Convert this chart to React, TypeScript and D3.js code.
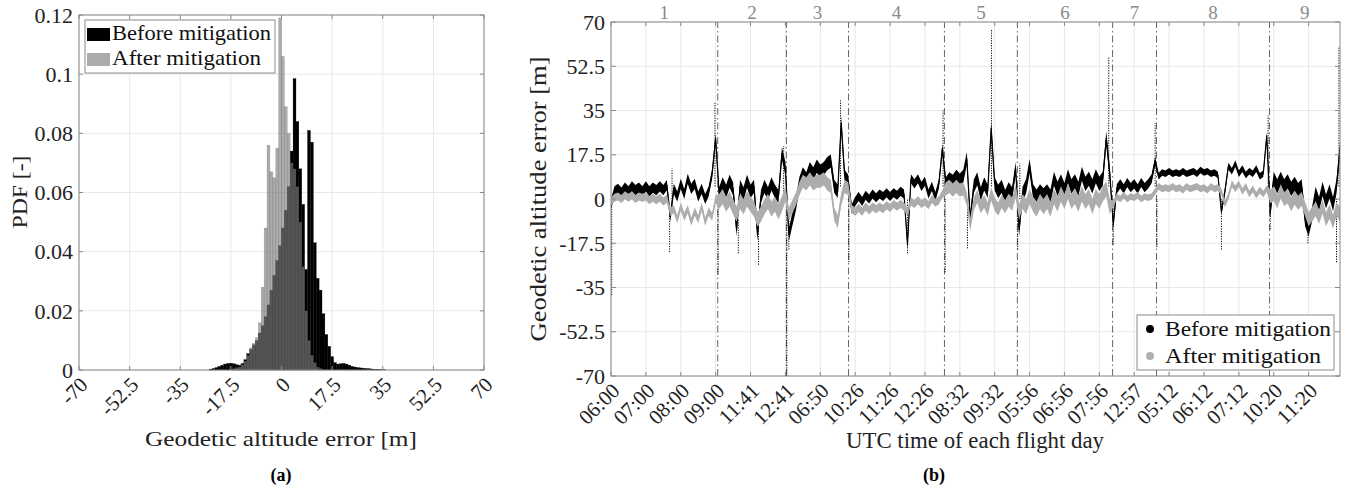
import * as d3 from 'd3'

const FONT = '"Liberation Serif", "Times New Roman", serif'

// ---- (a) PDF of the geodetic altitude error, 1 m bins ----
const binStartBefore = -25
const pdfBefore = [
  0.0003, 0.0005, 0.0008, 0.0012, 0.0016, 0.002, 0.0022, 0.0023, 0.0021, 0.0018,
  0.0016, 0.0022, 0.0035, 0.0055, 0.007, 0.0085, 0.01, 0.0125, 0.015, 0.018,
  0.022, 0.027, 0.032, 0.037, 0.042, 0.048, 0.054, 0.062, 0.074, 0.0985,
  0.084, 0.068, 0.056, 0.034, 0.081, 0.077, 0.043, 0.031, 0.027, 0.019,
  0.012, 0.008, 0.0045, 0.0025, 0.002, 0.0021, 0.0022, 0.002, 0.0016, 0.0012,
  0.001, 0.0008, 0.0007, 0.0006, 0.0005, 0.0004, 0.0003, 0.0002, 0.0002, 0.0001,
  0.0001,
]
const binStartAfter = -17
const pdfAfter = [
  0.0005, 0.0008, 0.001, 0.0018, 0.003, 0.005, 0.0075, 0.009, 0.011, 0.016,
  0.028, 0.048, 0.076, 0.067, 0.065, 0.075, 0.119, 0.106, 0.089, 0.08,
  0.07, 0.068, 0.062, 0.05, 0.035, 0.02, 0.01, 0.005, 0.0025, 0.001,
  0.0005,
]
const histXTicks = [-70, -52.5, -35, -17.5, 0, 17.5, 35, 52.5, 70]
const histYTicks = [0, 0.02, 0.04, 0.06, 0.08, 0.1, 0.12]

// ---- (b) error time series, one sample every 0.1 tick (hour) ----
const step = 0.1
const errBefore = [
  -2, 3, 4, 2.5, 4.5, 3, 5, 3.5, 4.5, 3,
  5, 3, 4.5, 3.5, 5, 3.5, 5.5, -7, 4, 1,
  6, 2, 8, 4, 6, 1, 4, 0, 3, 10,
  24, 2, 6, 3, 7, 4, -12, 5, 2, 7,
  3, 5, -14, 1, 5, 2, 6, 3, 1, 18,
  12, -14, -8, -2, 6, 10, 8, 12, 10, 13,
  11, 12, 14, 15, 5, 3, 30, 9, 7, -4,
  -1, 1, -1, 1.5, 0, 2, 0.5, 2, 1, 2.5,
  1, 2.5, 1.5, 3, 2, -18, 8, 6, 8, 5,
  7, 2, 5, 1, 6, 20, 6, 8, 7, 9,
  7.5, 9, 16, -8, 5, 8, 2, 6, 3, 28,
  6, 3, 5, 1, 4, 2, 12, -12, 2, 5,
  13, 3, 1, 3, 1.5, 3, 1, 8, 4, 7,
  3.5, 9, 5, 7, 4, 10, 6, 8, 5, 9,
  6, 8, 24, 10, -10, 4, 6, 4, 6.5, 4.5,
  6, 4, 6.5, 4.5, 6, 8, 15, 9, 10.5, 10,
  11, 10, 10.5, 10, 11, 10, 10.5, 11, 10, 11.5,
  10.5, 11, 10, 10.5, 9.5, -5, 3, 13, 11, 14,
  10, 12, 9.5, 11, 10, 12, 9, 10, 25, -5,
  8, 5, 8, 5, 7, 4, 6, 3.5, 5, -8,
  -12, -6, 2, -2, 4, -1, 3, -2, 5, 20,
]
const errAfter = [
  -1, 0.5, 1, 0, 1.5, 0.5, 1.5, 0, 1, 0.5,
  1, -0.5, 0.5, -0.5, 0.5, -1, 0, -5, -4, -8,
  -3, -7, -4, -9, -5, -8, -3, -9, -5, -7,
  0, -1, 1, -2, 0, -3, -6, -1, -3, 0,
  -2, -4, -8, -6, -3, -1, -4, -2, -5, -2,
  2, -6, -3, 0, 4, 7, 6, 8, 6, 7,
  7, 8, 6, 5, -6, -9, 0, 5, 4, -4,
  -5, -3.5, -5, -3, -4.5, -3, -4, -3, -4, -2.5,
  -3.5, -2, -3, -2, -3, -5, -1, -2, -0.5, -2,
  -1, -2.5, 0, -1.5, -0.5, 2, 4, 5, 3.5, 5,
  3.5, 4, 0, -10, -2, 1, -3, -1, -4, 2,
  -2, -4, -1, -3, -0.5, -2, 3, -5, -1, -3,
  1, -2, -4, -1, -3, -1, -4, 1, -2, 2,
  -1, 3, -1, 1, -2, 2, -1, 1, -3, 1,
  -1, 2, 4, -3, -2, 1, 0, 1.5, 0, 1,
  0.5, 1.5, 0, 1, 0.5, 1, 3, 5, 4, 4.5,
  4, 5, 4, 4.5, 3.5, 5, 4, 4.5, 5, 4,
  4.5, 3.5, 5, 4, 4.5, 3, -2, 1, 6, 4,
  6, 3, 5, 2, 4, 1.5, 3.5, 2, 4, 1,
  2, -1, 3, 0, 1, -2, 0.5, -1.5, 0, -4,
  -8, -6, -4, -7, -3, -8, -5, -9, -4, -6,
]
// half-thickness of the noise band in each flight [m]
const bandBefore = [2, 2.6, 2.6, 1.8, 2.6, 2.8, 1.8, 1.3, 2.8]
const bandAfter = [1.6, 3, 2.6, 1.6, 2.6, 3, 1.3, 1.3, 2.8]
// sparse outliers of the unmitigated error (drawn dotted)
const spikeT = [0.02, 1.68, 1.75, 2.98, 3.07, 3.65, 4.23, 4.95, 5.04, 5.1, 6.58, 6.82, 8.5, 9.52, 9.58,
  10.22, 10.91, 11.66, 11.72, 14.27, 14.4, 15.6, 15.65, 17.5, 18.84, 18.9, 19.98, 20.8, 20.87]
const spikeLo = [-38, -21, 0, 5, -30, -21.5, -26, 0, -70, -20, 5, -25, -21.5, 5, -29,
  -19.5, 5, -20, 0, 5, -18, 5, -19, -20, 5, -12, -17.5, -25, 5]
const spikeHi = [0, -5, 12, 38, 0, -8, -8, 21, 0, -5, 39, 5, 0, 35, 0,
  0, 67, 0, 14, 56, 0, 30, 0, 0, 33, 0, -5, 0, 60]

const flightEnds = [3.06, 5.03, 6.81, 9.56, 11.65, 14.38, 15.64, 18.88]
const flightDays = ['1', '2', '3', '4', '5', '6', '7', '8', '9']
const timeLabels = ['06:00', '07:00', '08:00', '09:00', '11:41', '12:41', '06:50', '10:26', '11:26', '12:26',
  '08:32', '09:32', '05:56', '06:56', '07:56', '12:57', '05:12', '06:12', '07:12', '10:20', '11:20']
const errTicks = [-70, -52.5, -35, -17.5, 0, 17.5, 35, 52.5, 70]
const tEnd = 20.9

export default function App() {
  // panel (a)
  const xL = d3.scaleLinear().domain([-70, 70]).range([79, 484])
  const yL = d3.scaleLinear().domain([0, 0.12]).range([370, 15])
  // panel (b)
  const xR = d3.scaleLinear().domain([0, tEnd]).range([611, 1340])
  const yR = d3.scaleLinear().domain([-70, 70]).range([376, 22])

  const flightOf = (t: number) => d3.bisectRight(flightEnds, t)
  const line = d3.line<number>().x((_, i) => xR(i * step)).y(v => yR(v))
  const band = (half: number[]) => d3.area<number>()
    .x((_, i) => xR(i * step))
    .y0((v, i) => yR(v - half[flightOf(i * step)]))
    .y1((v, i) => yR(v + half[flightOf(i * step)]))
  const bounds = [0, ...flightEnds, tEnd]
  const tickIdx = d3.range(timeLabels.length)

  const gridC = '#e8e8e8'
  const axisC = '#8a8a8a'
  const greyS = '#adadad'

  return (
    <svg width={1355} height={489}
      style={{ position: 'absolute', left: 0, top: 0, background: '#fff', fontFamily: FONT }}>
      <defs>
        <clipPath id='clipR'><rect x={611} y={22} width={729} height={354} /></clipPath>
      </defs>

      {/* ---------- (a) ---------- */}
      <g>
        {histXTicks.map(t => (
          <line key={'gx' + t} x1={xL(t)} x2={xL(t)} y1={yL(0)} y2={yL(0.12)} stroke={gridC} />
        ))}
        {histYTicks.map(t => (
          <line key={'gy' + t} x1={xL(-70)} x2={xL(70)} y1={yL(t)} y2={yL(t)} stroke={gridC} />
        ))}
        {pdfBefore.map((v, i) => {
          const k = binStartBefore + i
          return <rect key={'b' + i} x={xL(k)} width={xL(k + 1) - xL(k)} y={yL(v)} height={yL(0) - yL(v)}
            fill='#000' stroke='#000' strokeWidth={0.3} />
        })}
        {pdfAfter.map((v, i) => {
          const k = binStartAfter + i
          return <rect key={'a' + i} x={xL(k)} width={xL(k + 1) - xL(k)} y={yL(v)} height={yL(0) - yL(v)}
            fill='#808080' fillOpacity={0.66} stroke='#333' strokeOpacity={0.25} strokeWidth={0.5} />
        })}
        <rect x={xL(-70)} y={yL(0.12)} width={xL(70) - xL(-70)} height={yL(0) - yL(0.12)}
          fill='none' stroke={axisC} />
        {histXTicks.map(t => (
          <g key={'tx' + t}>
            <line x1={xL(t)} x2={xL(t)} y1={yL(0)} y2={yL(0) - 4} stroke={axisC} />
            <line x1={xL(t)} x2={xL(t)} y1={yL(0.12)} y2={yL(0.12) + 4} stroke={axisC} />
            <text transform={`translate(${xL(t) + 10},${yL(0) + 16}) rotate(-45)`} textAnchor='end'
              fontSize={21} fill='#222'>{String(t)}</text>
          </g>
        ))}
        {histYTicks.map(t => (
          <g key={'ty' + t}>
            <line x1={xL(-70)} x2={xL(-70) + 4} y1={yL(t)} y2={yL(t)} stroke={axisC} />
            <line x1={xL(70)} x2={xL(70) - 4} y1={yL(t)} y2={yL(t)} stroke={axisC} />
            <text x={73} y={yL(t)} dy='0.35em' textAnchor='end' fontSize={22} fill='#222'>{String(t)}</text>
          </g>
        ))}
        <text transform='translate(27,192) rotate(-90)' textAnchor='middle' fontSize={22} fill='#222'
          textLength={73} lengthAdjust='spacingAndGlyphs'>PDF [-]</text>
        <text x={281} y={446} textAnchor='middle' fontSize={22} fill='#222'
          textLength={272} lengthAdjust='spacingAndGlyphs'>Geodetic altitude error [m]</text>
        <text x={281} y={481} textAnchor='middle' fontSize={18} fontWeight='bold'>(a)</text>

        {/* legend */}
        <rect x={85} y={20} width={190} height={53} fill='#fff' stroke={axisC} />
        <rect x={87} y={28} width={23} height={13} fill='#000' />
        <rect x={87} y={53} width={23} height={13} fill='#808080' fillOpacity={0.66} />
        <text x={112} y={40} fontSize={21} fill='#111' textLength={159} lengthAdjust='spacingAndGlyphs'>Before mitigation</text>
        <text x={112} y={65} fontSize={21} fill='#111' textLength={149} lengthAdjust='spacingAndGlyphs'>After mitigation</text>
      </g>

      {/* ---------- (b) ---------- */}
      <g>
        {tickIdx.map(t => (
          <line key={'rgx' + t} x1={xR(t)} x2={xR(t)} y1={yR(-70)} y2={yR(70)} stroke={gridC} />
        ))}
        {errTicks.map(t => (
          <line key={'rgy' + t} x1={xR(0)} x2={xR(tEnd)} y1={yR(t)} y2={yR(t)} stroke={gridC} />
        ))}
        <g clipPath='url(#clipR)'>
          {flightEnds.map(t => (
            <line key={'fe' + t} x1={xR(t)} x2={xR(t)} y1={yR(-70)} y2={yR(70)}
              stroke='#666' strokeWidth={1} strokeDasharray='7 3 1.5 3' />
          ))}
          {spikeT.map((t, i) => (
            <line key={'sp' + i} x1={xR(t)} x2={xR(t)} y1={yR(spikeLo[i])} y2={yR(spikeHi[i])}
              stroke='#000' strokeWidth={1} strokeDasharray='1.2 1.3' />
          ))}
          <path d={band(bandBefore)(errBefore) ?? ''} fill='#000' />
          <path d={line(errBefore) ?? ''} fill='none' stroke='#000' strokeWidth={1.2} strokeLinejoin='round' />
          <path d={band(bandAfter)(errAfter) ?? ''} fill={greyS} />
          <path d={line(errAfter) ?? ''} fill='none' stroke={greyS} strokeWidth={1.2} strokeLinejoin='round' />
        </g>
        <rect x={xR(0)} y={yR(70)} width={xR(tEnd) - xR(0)} height={yR(-70) - yR(70)} fill='none' stroke={axisC} />
        {tickIdx.map(t => (
          <g key={'rtx' + t}>
            <line x1={xR(t)} x2={xR(t)} y1={yR(-70)} y2={yR(-70) - 4} stroke={axisC} />
            <line x1={xR(t)} x2={xR(t)} y1={yR(70)} y2={yR(70) + 4} stroke={axisC} />
            <text transform={`translate(${xR(t) + 10},${yR(-70) + 16}) rotate(-45)`} textAnchor='end'
              fontSize={21} fill='#222'>{timeLabels[t]}</text>
          </g>
        ))}
        {errTicks.map(t => (
          <g key={'rty' + t}>
            <line x1={xR(0)} x2={xR(0) + 5} y1={yR(t)} y2={yR(t)} stroke={axisC} />
            <line x1={xR(tEnd)} x2={xR(tEnd) - 5} y1={yR(t)} y2={yR(t)} stroke={axisC} />
            <text x={605} y={yR(t)} dy='0.35em' textAnchor='end' fontSize={22} fill='#222'>{String(t)}</text>
          </g>
        ))}
        {flightDays.map((d, i) => (
          <text key={'day' + d} x={xR((bounds[i] + bounds[i + 1]) / 2)} y={19} textAnchor='middle'
            fontSize={19} fill='#8a8a8a'>{d}</text>
        ))}
        <text transform='translate(546,199) rotate(-90)' textAnchor='middle' fontSize={23} fill='#222'
          textLength={285} lengthAdjust='spacingAndGlyphs'>Geodetic altitude error [m]</text>
        <text x={975} y={448} textAnchor='middle' fontSize={23} fill='#222'
          textLength={258} lengthAdjust='spacingAndGlyphs'>UTC time of each flight day</text>
        <text x={934} y={481} textAnchor='middle' fontSize={18} fontWeight='bold'>(b)</text>

        {/* legend */}
        <rect x={1137} y={315} width={197} height={55} fill='#fff' stroke={axisC} />
        <circle cx={1150} cy={329} r={4} fill='#000' />
        <circle cx={1150} cy={356} r={4} fill='#b0b0b0' />
        <text x={1165} y={336} fontSize={22} fill='#111' textLength={166} lengthAdjust='spacingAndGlyphs'>Before mitigation</text>
        <text x={1165} y={363} fontSize={22} fill='#111' textLength={156} lengthAdjust='spacingAndGlyphs'>After mitigation</text>
      </g>
    </svg>
  )
}
